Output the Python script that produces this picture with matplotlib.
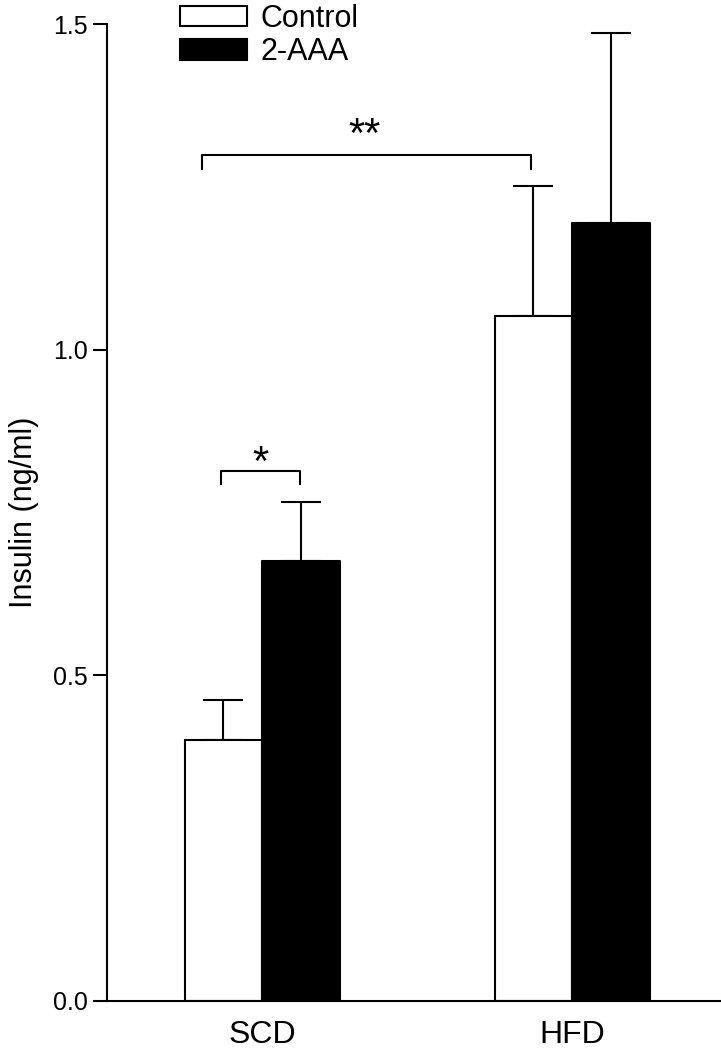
import matplotlib
matplotlib.use('Agg')
import matplotlib.pyplot as plt
import numpy as np

# insulin values (ng/ml), mean and upper SEM
groups = ['SCD', 'HFD']
control_mean = [0.401, 1.052]
control_sem = [0.061, 0.200]
aaa_mean = [0.676, 1.194]
aaa_sem = [0.090, 0.292]
series_labels = ['Control', '2-AAA']

plt.rcParams['font.family'] = ['Liberation Sans', 'DejaVu Sans']

fig = plt.figure(figsize=(7.21, 10.53), dpi=100)
ax = fig.add_axes([107 / 721, 1 - 1001 / 1053, 614 / 721, 977 / 1053])

x = np.arange(len(groups))
width = 0.25
lw = 1.5

b1 = ax.bar(x - width / 2, control_mean, width, color='white', edgecolor='black',
            linewidth=lw, zorder=2)
b2 = ax.bar(x + width / 2, aaa_mean, width, color='black', edgecolor='black',
            linewidth=lw, zorder=2, joinstyle='round')

# one-sided (upper) error bars
ax.errorbar(x - width / 2, control_mean, yerr=[np.zeros(len(groups)), control_sem],
            fmt='none', ecolor='black', elinewidth=lw, capsize=14.5, capthick=lw, zorder=1)
ax.errorbar(x + width / 2, aaa_mean, yerr=[np.zeros(len(groups)), aaa_sem],
            fmt='none', ecolor='black', elinewidth=lw, capsize=14.5, capthick=lw, zorder=1)

# significance brackets
ax.plot([-0.194, -0.194, 0.868, 0.868], [1.277, 1.299, 1.299, 1.277], color='black', lw=lw)
ax.text(0.329, 1.311, '**', ha='center', va='baseline', fontsize=30)
ax.plot([-0.132, -0.132, 0.123, 0.123], [0.794, 0.814, 0.814, 0.794], color='black', lw=lw)
ax.text(-0.006, 0.808, '*', ha='center', va='baseline', fontsize=30)

ax.set_xlim(-0.5, (721 - 262) / 310)
ax.set_ylim(0, 1.5)
ax.set_yticks([0.0, 0.5, 1.0, 1.5])
ax.set_yticklabels(['0.0', '0.5', '1.0', '1.5'])
ax.set_xticks(x)
ax.set_xticklabels(groups)

ax.spines['top'].set_visible(False)
ax.spines['right'].set_visible(False)
ax.spines['left'].set_linewidth(lw)
ax.spines['bottom'].set_linewidth(lw)
ax.tick_params(axis='y', length=10, width=lw, pad=3.5, labelsize=18)
ax.tick_params(axis='x', length=0, pad=14, labelsize=23)

ax.set_ylabel('Insulin (ng/ml)', fontsize=22, labelpad=10)

fig.legend([b1.patches[0], b2.patches[0]], series_labels, loc='upper left',
           bbox_to_anchor=(180 / 721, 1 - 4 / 1053), frameon=False, borderpad=0,
           borderaxespad=0, handlelength=2.2, handleheight=0.65, handletextpad=0.45,
           labelspacing=0.1, fontsize=22)

fig.savefig('out.png', dpi=100)
